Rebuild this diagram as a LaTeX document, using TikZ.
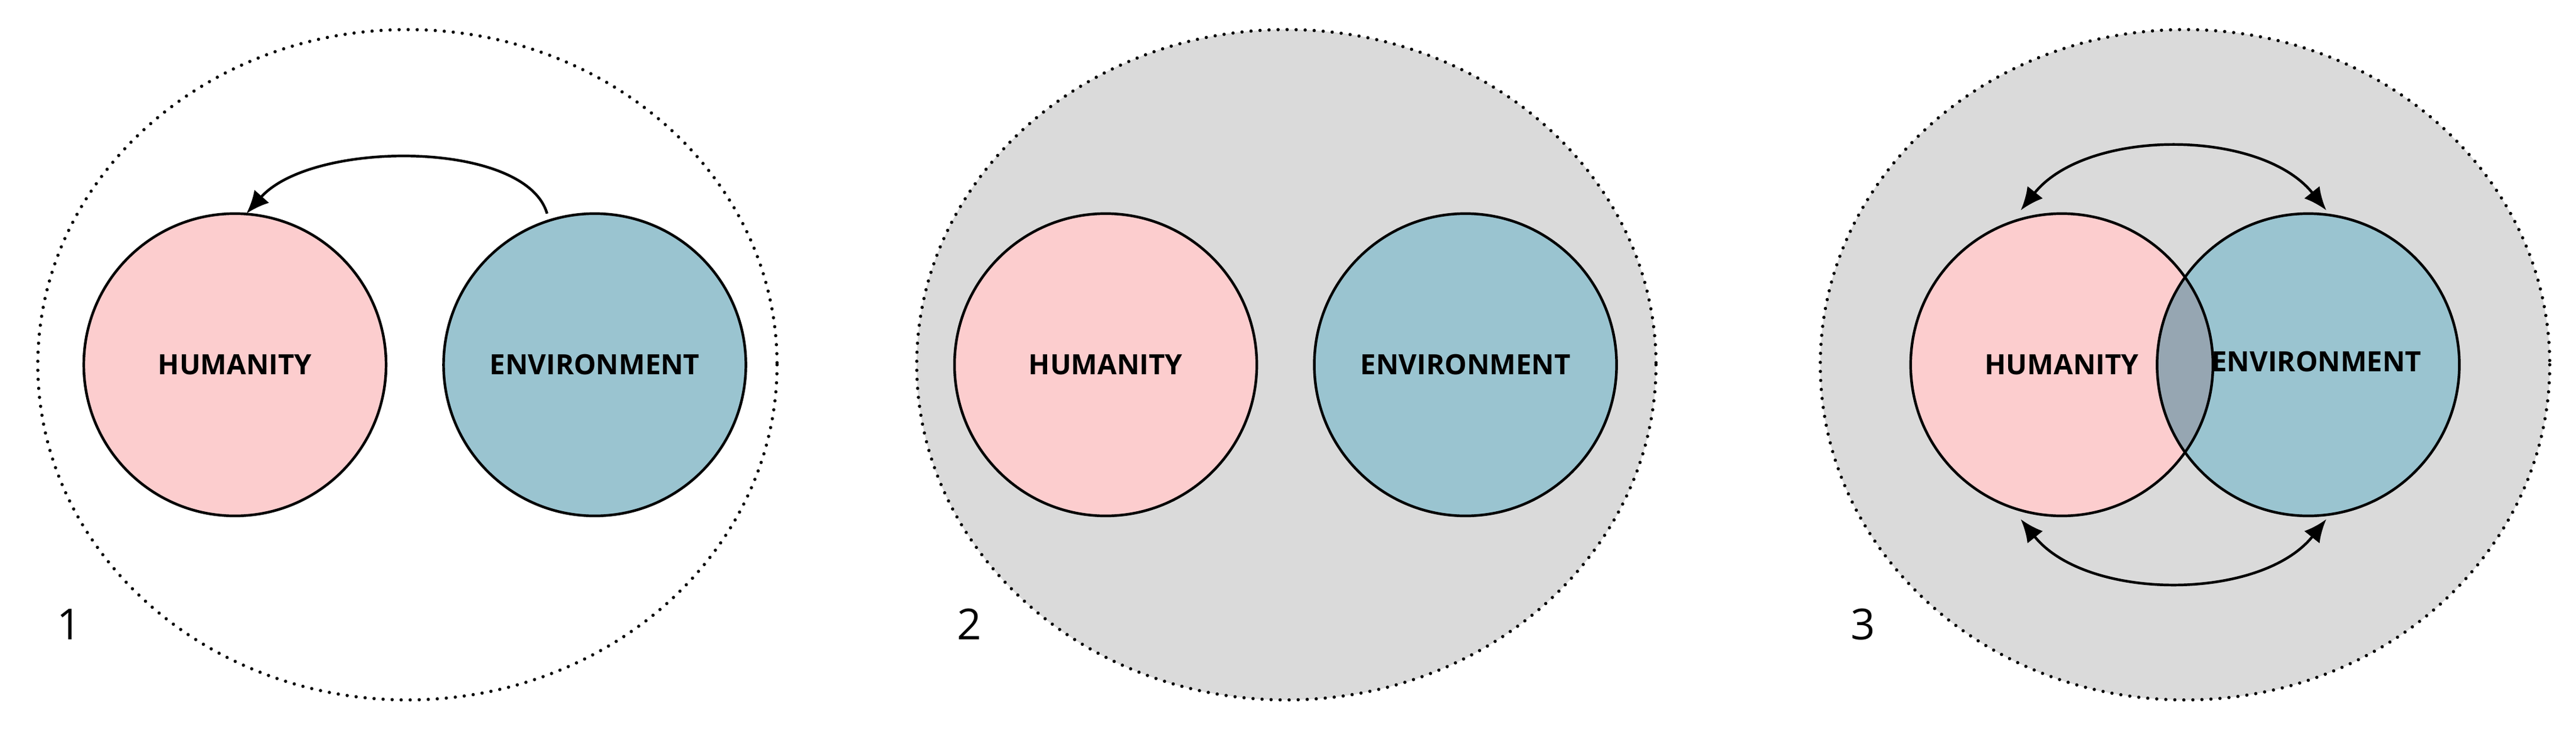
\documentclass[tikz,border=0pt]{standalone}
\usepackage{fontspec}
\setmainfont{Open Sans}
\usetikzlibrary{arrows.meta}
\definecolor{hum}{RGB}{252,205,206}
\definecolor{env}{RGB}{154,196,208}
\definecolor{bg}{RGB}{218,218,218}
\definecolor{ov}{RGB}{150,166,178}
\begin{document}
\begin{tikzpicture}[x=1pt,y=-1pt,
  outer/.style={draw,line width=2pt,line cap=round,dash pattern=on 0pt off 5.5pt},
  circ/.style={circle,draw,line width=1.6pt,minimum size=184pt,font=\bfseries\fontsize{17}{19}\selectfont},
  arr/.style={line width=1.6pt,-{Latex[length=14pt,width=12pt]}},
  darr/.style={line width=1.6pt,{Latex[length=14pt,width=12pt]}-{Latex[length=14pt,width=12pt]}},
  lab/.style={font=\bfseries\fontsize{17}{19}\selectfont},
  num/.style={font=\fontsize{26}{28}\selectfont}]
\useasboundingbox (0,0) rectangle (1568,445.5);
% panel 1
\draw[outer] (248,222) ellipse [x radius=225, y radius=204];
\node[circ,fill=hum] (h1) at (143,222) {HUMANITY};
\node[circ,fill=env] (e1) at (362,222) {ENVIRONMENT};
\coordinate (a1) at (333,130);
\coordinate (b1) at (150,130);
\draw[arr] (a1) .. controls (320,85) and (190,85) .. (b1);
\node[num] (n1) at (42,380) {1};
% panel 2
\draw[outer,fill=bg] (783,222) ellipse [x radius=225, y radius=204];
\node[circ,fill=hum] (h2) at (673,222) {};
\node[circ,fill=env] (e2) at (892,222) {};
\node[lab] (t2) at (673,222) {HUMANITY};
\node[lab] (t3) at (892,222) {ENVIRONMENT};
\node[num] (n2) at (590,380) {2};
% panel 3
\draw[outer,fill=bg] (1330,222) ellipse [x radius=222, y radius=204];
\fill[hum] (1255,222) circle (92);
\fill[env] (1405,222) circle (92);
\begin{scope}\clip (1255,222) circle (92); \fill[ov] (1405,222) circle (92); \end{scope}
\draw[line width=1.6pt] (1255,222) circle (92);
\draw[line width=1.6pt] (1405,222) circle (92);
\node[lab] (h3) at (1255,222) {HUMANITY};
\node[lab] (e3) at (1410,220) {ENVIRONMENT};
\coordinate (p1) at (1230,128); \coordinate (p2) at (1416,128);
\coordinate (q1) at (1230,316); \coordinate (q2) at (1416,316);
\draw[darr] (p1) .. controls (1270,78) and (1376,78) .. (p2);
\draw[darr] (q1) .. controls (1270,366) and (1376,366) .. (q2);
\node[num] (n3) at (1134,380) {3};
\end{tikzpicture}
\end{document}
